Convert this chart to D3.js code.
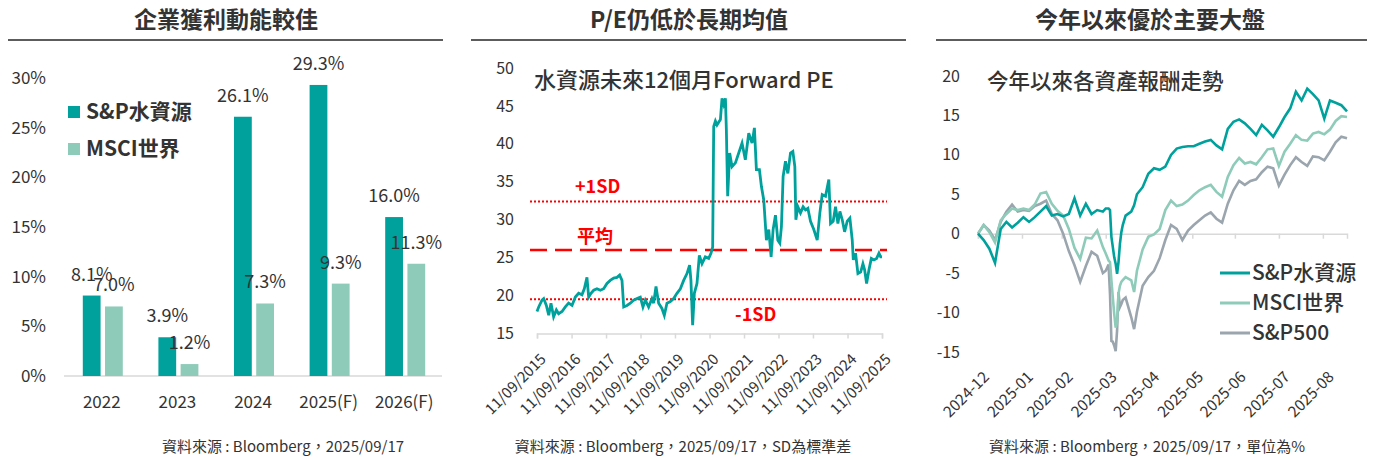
<!DOCTYPE html>
<meta charset="utf-8">
<script src="https://cdn.jsdelivr.net/npm/d3@7"></script>
<style>
body { margin: 0; background: #fff; }
text { font-family: "Noto Sans CJK TC", "Noto Sans", sans-serif; fill: #333; }
</style>
<body>
<script>
// ---- panel 1: earnings growth
var barCategories = ["2022", "2023", "2024", "2025(F)", "2026(F)"];
var barSeries = ["S&P水資源", "MSCI世界"];
var spWaterGrowth = [8.1, 3.9, 26.1, 29.3, 16.0];
var msciGrowth = [7.0, 1.2, 7.3, 9.3, 11.3];
var barTicks = [0, 5, 10, 15, 20, 25, 30];

// ---- panel 2: 12m forward PE
var peTicks = ["2015-09-11", "2016-09-11", "2017-09-11", "2018-09-11", "2019-09-11", "2020-09-11",
               "2021-09-11", "2022-09-11", "2023-09-11", "2024-09-11", "2025-09-11"];
var peLevels = [["+1SD", 32.4], ["平均", 26.0], ["-1SD", 19.5]];
var pePoints = [
  ["2015-09-11",17.9],["2015-09-29",18.5],["2015-11-03",19.4],["2015-11-21",19.6],["2015-12-19",18.7],["2016-01-13",17.4],
  ["2016-02-06",19.0],["2016-03-05",17.2],["2016-04-03",18.1],["2016-04-27",17.6],["2016-06-02",17.9],["2016-07-07",18.5],
  ["2016-08-11",19.0],["2016-09-16",18.7],["2016-10-21",19.8],["2016-11-25",20.3],["2016-12-30",20.1],["2017-01-24",20.9],
  ["2017-02-21",22.4],["2017-03-11",19.8],["2017-04-05",20.3],["2017-05-03",20.7],["2017-06-07",20.9],["2017-07-13",20.7],
  ["2017-08-17",20.9],["2017-09-21",21.6],["2017-10-26",22.0],["2017-12-01",22.3],["2018-01-05",22.4],["2018-02-02",22.7],
  ["2018-02-27",22.0],["2018-03-17",18.5],["2018-04-21",18.7],["2018-05-26",19.0],["2018-06-30",19.4],["2018-08-05",19.6],
  ["2018-09-09",19.8],["2018-10-07",18.5],["2018-11-01",19.4],["2018-12-06",18.5],["2019-01-10",19.6],["2019-01-28",19.0],
  ["2019-02-22",21.2],["2019-03-22",19.0],["2019-04-26",18.3],["2019-05-21",17.4],["2019-06-18",19.0],["2019-07-24",19.2],
  ["2019-08-28",19.6],["2019-10-02",20.3],["2019-11-07",20.9],["2019-12-12",22.0],["2020-01-16",22.9],["2020-02-13",24.0],
  ["2020-02-27",22.0],["2020-03-16",16.1],["2020-04-03",20.3],["2020-05-01",21.6],["2020-05-26",25.3],["2020-06-23",24.2],
  ["2020-07-28",25.1],["2020-09-02",24.9],["2020-09-27",25.6],["2020-10-14",26.4],["2020-10-25",42.3],["2020-11-12",43.0],
  ["2020-11-29",42.5],["2021-01-04",43.2],["2021-01-21",46.0],["2021-02-08",45.2],["2021-02-26",46.0],["2021-03-08",41.9],
  ["2021-03-22",33.1],["2021-04-12",38.8],["2021-05-07",37.0],["2021-06-12",37.5],["2021-07-17",38.8],["2021-08-21",40.1],
  ["2021-09-25",37.9],["2021-10-31",41.4],["2021-12-05",40.1],["2021-12-30",42.1],["2022-01-20",36.6],["2022-02-21",36.6],
  ["2022-03-14",34.4],["2022-04-08",32.6],["2022-05-06",27.3],["2022-05-31",28.7],["2022-06-25",25.1],["2022-07-16",28.7],
  ["2022-08-10",30.6],["2022-09-04",27.3],["2022-09-25",26.9],["2022-10-12",29.1],["2022-10-30",35.7],["2022-11-24",37.7],
  ["2022-12-19",36.1],["2023-01-16",38.8],["2023-02-10",39.0],["2023-03-03",37.0],["2023-03-14",30.0],["2023-04-04",31.7],
  ["2023-05-02",30.9],["2023-05-30",31.7],["2023-06-24",31.3],["2023-07-19",31.5],["2023-08-16",29.8],["2023-09-20",28.7],
  ["2023-10-26",27.3],["2023-11-23",30.9],["2023-12-18",33.3],["2024-01-22",33.1],["2024-02-26",35.3],["2024-03-15",29.5],
  ["2024-04-12",29.8],["2024-05-07",31.7],["2024-06-01",29.5],["2024-06-22",31.1],["2024-07-17",30.0],["2024-08-11",28.4],
  ["2024-09-08",29.8],["2024-10-06",30.2],["2024-10-31",27.3],["2024-11-11",24.7],["2024-12-05",25.6],["2024-12-30",22.9],
  ["2025-01-28",23.1],["2025-02-21",24.2],["2025-03-11",23.4],["2025-04-01",21.6],["2025-04-26",23.4],["2025-05-21",24.9],
  ["2025-06-18",24.7],["2025-07-16",24.9],["2025-08-10",25.6],["2025-08-28",25.1],["2025-09-11",25.1]
];

// ---- panel 3: YTD returns (%)
var retTicks = ["2024-12-31", "2025-01-31", "2025-02-28", "2025-03-31", "2025-04-30",
                "2025-05-31", "2025-06-30", "2025-07-31", "2025-08-31"];
var retNames = ["S&P水資源", "MSCI世界", "S&P500"];
var retDates = [
  "2024-12-31","2025-01-04","2025-01-08","2025-01-12","2025-01-16","2025-01-20","2025-01-24","2025-01-28",
  "2025-02-01","2025-02-05","2025-02-09","2025-02-13","2025-02-17","2025-02-21","2025-02-25","2025-03-01",
  "2025-03-05","2025-03-09","2025-03-13","2025-03-17","2025-03-21","2025-03-25","2025-03-29",
  "2025-03-31","2025-04-02","2025-04-03","2025-04-04","2025-04-05","2025-04-06","2025-04-07","2025-04-08",
  "2025-04-09","2025-04-10","2025-04-11","2025-04-12",
  "2025-04-14","2025-04-18","2025-04-20","2025-04-22",
  "2025-04-26","2025-04-30","2025-05-04","2025-05-08","2025-05-12","2025-05-16","2025-05-20","2025-05-24",
  "2025-05-28","2025-06-01","2025-06-05","2025-06-09","2025-06-13","2025-06-17","2025-06-21","2025-06-25",
  "2025-06-29","2025-07-03","2025-07-07","2025-07-11","2025-07-15","2025-07-19","2025-07-23","2025-07-27",
  "2025-07-31","2025-08-04","2025-08-08","2025-08-12","2025-08-16","2025-08-20","2025-08-24","2025-08-28",
  "2025-09-01","2025-09-05","2025-09-09","2025-09-13","2025-09-17"
];
var retWater = [
  0.0,-0.8,-1.9,-3.7,0.6,1.5,0.8,1.4,2.1,1.5,2.1,2.8,3.5,2.3,2.5,2.2,2.5,4.5,2.3,3.8,2.5,3.0,2.8,
  3.2,3.2,3.0,-0.4,-1.7,-3.0,-3.8,-5.1,-3.6,-1.3,0.2,1.1,
  2.3,2.8,3.6,5.0,
  5.9,7.6,8.3,8.1,8.5,10.0,10.8,11.0,11.1,11.1,11.4,11.7,11.9,11.2,10.7,13.3,14.2,14.5,14.0,13.3,12.5,
  13.8,13.1,12.3,13.5,14.8,15.9,18.0,16.9,18.4,17.7,16.9,14.6,16.9,16.6,16.3,15.5
];
var retMsci = [
  0.0,1.1,0.2,-1.1,1.7,2.5,3.2,3.0,3.2,3.0,3.7,5.1,5.3,3.8,2.9,2.3,0.6,-1.8,-3.2,-0.5,-0.6,0.4,-1.7,
  -2.5,-3.4,-3.6,-5.9,-8.1,-10.2,-11.9,-11.2,-7.6,-6.6,-6.1,-5.9,
  -5.5,-5.9,-7.4,-4.7,
  -2.0,-0.4,-0.1,0.6,3.0,4.2,3.5,3.7,4.2,4.9,5.5,5.9,6.2,5.3,4.7,7.2,8.7,9.6,8.9,9.1,8.8,
  9.7,10.7,10.8,8.6,10.4,11.4,12.5,11.9,11.8,12.7,12.9,12.6,13.2,14.3,14.9,14.8
];
var retSp500 = [
  0.0,1.1,0.4,-0.8,1.5,2.8,3.7,2.8,3.0,2.9,3.5,3.8,4.2,2.5,1.7,0.0,-2.2,-4.0,-6.1,-4.1,-2.3,-2.8,-5.0,
  -4.7,-3.9,-7.6,-13.6,-13.7,-14.2,-14.9,-12.3,-7.4,-9.3,-8.9,-8.4,
  -8.1,-10.6,-12.1,-9.9,
  -6.6,-5.5,-4.7,-3.1,-0.8,1.1,0.6,-0.8,0.4,1.1,1.7,2.3,2.7,1.9,1.4,3.8,5.5,6.7,6.2,6.7,6.9,
  7.8,8.5,8.3,6.1,7.5,8.7,9.7,9.1,8.6,9.8,9.7,9.3,10.4,11.6,12.3,12.1
];
var retTicksY = [-15, -10, -5, 0, 5, 10, 15, 20];

var teal = "#00a19c", mint = "#8ecbb9", grey = "#9aa5ad", red = "#ff0000";
var parse = d3.timeParse("%Y-%m-%d");

var svg = d3.select("body").append("svg")
    .attr("width", 1374)
    .attr("height", 458);

// panel headers + sources
function header(cx, x0, x1, title, sx, source) {
  svg.append("text").text(title)
      .attr("x", cx).attr("y", 28)
      .attr("text-anchor", "middle")
      .attr("font-size", "23px").attr("font-weight", "bold")
      .attr("fill", "#262626");
  svg.append("line")
      .attr("x1", x0).attr("x2", x1).attr("y1", 40).attr("y2", 40)
      .attr("stroke", "#262626").attr("stroke-width", 1.5);
  svg.append("text").text(source)
      .attr("x", sx).attr("y", 452)
      .attr("text-anchor", "middle")
      .attr("font-size", "15px");
}
header(226, 8, 443, "企業獲利動能較佳", 283, "資料來源 : Bloomberg，2025/09/17");
header(689, 471, 906, "P/E仍低於長期均值", 683, "資料來源 : Bloomberg，2025/09/17，SD為標準差");
header(1150, 936, 1367, "今年以來優於主要大盤", 1147, "資料來源 : Bloomberg，2025/09/17，單位為%");

// ================= panel 1
var xb = d3.scaleBand().domain(barCategories).range([64, 442]);
var xs = d3.scaleBand().domain(barSeries).range([0, 40]).paddingInner(0.2);
var yb = d3.scaleLinear().domain([0, 30]).range([376, 78]);
var barColors = [teal, mint];
var barValues = [spWaterGrowth, msciGrowth];

var p1 = svg.append("g");
p1.append("g")
    .attr("transform", "translate(46,0)")
    .call(d3.axisLeft(yb).tickValues(barTicks).tickSize(0).tickPadding(0).tickFormat(function(d) { return d + "%"; }))
    .call(function(g) { g.select(".domain").remove(); })
    .selectAll("text").attr("font-size", "17px").attr("font-family", null).attr("fill", "#404040");

p1.append("line")
    .attr("x1", 64).attr("x2", 442).attr("y1", yb(0)).attr("y2", yb(0))
    .attr("stroke", "#d9d9d9").attr("stroke-width", 1.5);

barSeries.forEach(function(s, j) {
  var g = p1.append("g");
  g.selectAll("rect")
      .data(barCategories)
    .enter().append("rect")
      .attr("x", function(c) { return xb(c) + xb.bandwidth() / 2 - 19 + xs(s); })
      .attr("y", function(c, i) { return yb(barValues[j][i]); })
      .attr("width", xs.bandwidth())
      .attr("height", function(c, i) { return yb(0) - yb(barValues[j][i]); })
      .attr("fill", barColors[j]);
  g.selectAll("text")
      .data(barCategories)
    .enter().append("text")
      .text(function(c, i) { return barValues[j][i].toFixed(1) + "%"; })
      .attr("x", function(c) { return xb(c) + xb.bandwidth() / 2 - 19 + xs(s) + xs.bandwidth() / 2; })
      .attr("y", function(c, i) { return yb(barValues[j][i]) - 15; })
      .attr("text-anchor", "middle")
      .attr("font-size", "18px");
});

p1.selectAll(".cat")
    .data(barCategories)
  .enter().append("text")
    .text(function(d) { return d; })
    .attr("x", function(d) { return xb(d) + xb.bandwidth() / 2; })
    .attr("y", 408)
    .attr("text-anchor", "middle")
    .attr("font-size", "17px");

var leg1 = p1.selectAll(".leg1").data(barSeries)
  .enter().append("g")
    .attr("transform", function(d, i) { return "translate(68," + (106 + i * 37) + ")"; });
leg1.append("rect").attr("width", 12).attr("height", 12)
    .attr("fill", function(d, i) { return barColors[i]; });
leg1.append("text").text(function(d) { return d; })
    .attr("x", 18).attr("y", 13)
    .attr("font-size", "21px").attr("font-weight", "bold");

// ================= panel 2
var xp = d3.scaleTime().domain([parse(peTicks[0]), parse(peTicks[peTicks.length - 1])]).range([537, 882]);
var yp = d3.scaleLinear().domain([15, 50]).range([333.5, 68]);
var p2 = svg.append("g");

p2.append("g")
    .attr("transform", "translate(514,0)")
    .call(d3.axisLeft(yp).tickValues(d3.range(15, 51, 5)).tickSize(0).tickPadding(0).tickFormat(String))
    .call(function(g) { g.select(".domain").remove(); })
    .selectAll("text").attr("font-size", "16px").attr("font-family", null).attr("fill", "#333");

var ax2 = p2.append("g")
    .attr("transform", "translate(0," + yp(15) + ")")
    .call(d3.axisBottom(xp).tickValues(peTicks.map(parse)).tickSize(5).tickFormat(""));
ax2.selectAll("path, line").attr("stroke", "#d9d9d9").attr("stroke-width", 1.5);

p2.selectAll(".pelab")
    .data(peTicks)
  .enter().append("text")
    .text(function(d) { return d3.timeFormat("%d/%m/%Y")(parse(d)); })
    .attr("text-anchor", "end")
    .attr("font-size", "15px")
    .attr("transform", function(d) { return "translate(" + (xp(parse(d)) + 10) + ",360) rotate(-45)"; });

var levelStyle = { "+1SD": "2,2", "平均": "17,8", "-1SD": "2,2" };
p2.selectAll(".lvl")
    .data(peLevels)
  .enter().append("line")
    .attr("x1", 530).attr("x2", 887)
    .attr("y1", function(d) { return yp(d[1]); })
    .attr("y2", function(d) { return yp(d[1]); })
    .attr("stroke", red)
    .attr("stroke-width", function(d) { return d[0] == "平均" ? 2.5 : 2; })
    .attr("stroke-dasharray", function(d) { return levelStyle[d[0]]; });

var lvlPos = { "+1SD": [575, -9], "平均": [577, -7], "-1SD": [735, 22] };
p2.selectAll(".lvlt")
    .data(peLevels)
  .enter().append("text")
    .text(function(d) { return d[0]; })
    .attr("x", function(d) { return lvlPos[d[0]][0]; })
    .attr("y", function(d) { return yp(d[1]) + lvlPos[d[0]][1]; })
    .attr("font-size", "18px").attr("font-weight", "bold")
    .style("fill", red);

var peLine = d3.line()
    .x(function(d) { return xp(parse(d[0])); })
    .y(function(d) { return yp(d[1]); });
p2.append("path")
    .datum(pePoints)
    .attr("d", peLine)
    .attr("fill", "none")
    .attr("stroke", teal)
    .attr("stroke-width", 2.8);

p2.append("text").text("水資源未來12個月Forward PE")
    .attr("x", 534).attr("y", 88)
    .attr("font-size", "22px").attr("font-weight", 500);

// ================= panel 3
var xr = d3.scaleTime().domain([parse(retDates[0]), parse(retDates[retDates.length - 1])]).range([978, 1347]);
var yr = d3.scaleLinear().domain([-15, 20]).range([352, 76]);
var p3 = svg.append("g");

p3.append("g")
    .attr("transform", "translate(960,0)")
    .call(d3.axisLeft(yr).tickValues(retTicksY).tickSize(0).tickPadding(0).tickFormat(String))
    .call(function(g) { g.select(".domain").remove(); })
    .selectAll("text").attr("font-size", "16px").attr("font-family", null).attr("fill", "#333");

var ax3 = p3.append("g")
    .attr("transform", "translate(0," + yr(0) + ")")
    .call(d3.axisBottom(xr).tickValues(retTicks.map(parse)).tickSize(5).tickFormat(""));
ax3.selectAll("path, line").attr("stroke", "#d9d9d9").attr("stroke-width", 1.5);

p3.selectAll(".retlab")
    .data(retTicks)
  .enter().append("text")
    .text(function(d) { return d3.timeFormat("%Y-%m")(parse(d)); })
    .attr("text-anchor", "end")
    .attr("font-size", "15.5px")
    .attr("transform", function(d) { return "translate(" + (xr(parse(d)) + 12) + ",378) rotate(-45)"; });

var retSeries = [retWater, retMsci, retSp500];
var retColors = [teal, mint, grey];
var retLine = d3.line()
    .x(function(d, i) { return xr(parse(retDates[i])); })
    .y(function(d) { return yr(d); });
[2, 1, 0].forEach(function(k) {
  p3.append("path")
      .datum(retSeries[k])
      .attr("d", retLine)
      .attr("fill", "none")
      .attr("stroke", retColors[k])
      .attr("stroke-width", 2.6);
});

p3.append("text").text("今年以來各資產報酬走勢")
    .attr("x", 987).attr("y", 89)
    .attr("font-size", "21.5px").attr("font-weight", 500);

var leg3 = p3.selectAll(".leg3").data(retNames)
  .enter().append("g")
    .attr("transform", function(d, i) { return "translate(1220," + (273 + i * 30) + ")"; });
leg3.append("line").attr("x1", 0).attr("x2", 30)
    .attr("stroke", function(d, i) { return retColors[i]; })
    .attr("stroke-width", 3);
leg3.append("text").text(function(d) { return d; })
    .attr("x", 32).attr("y", 7)
    .attr("font-size", "21px").attr("font-weight", 500);
</script>
</body>
